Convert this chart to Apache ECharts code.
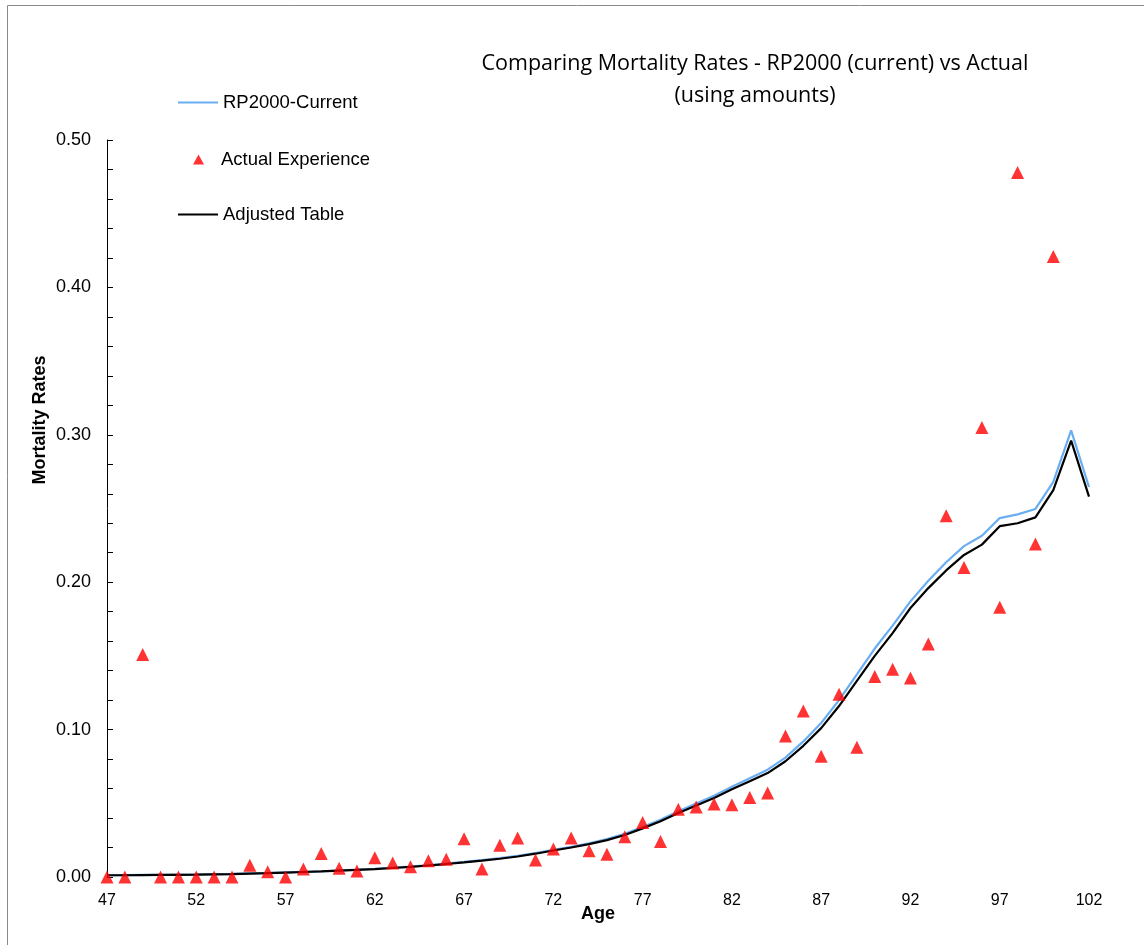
<!DOCTYPE html>
<html>
<head>
<meta charset="utf-8">
<script src="https://cdn.jsdelivr.net/npm/echarts@6/dist/echarts.min.js"></script>
<style>
  html, body { margin: 0; padding: 0; background: #fff; }
  #chart { width: 1144px; height: 945px; }
</style>
</head>
<body>
<div id="chart"></div>
<script>
// ages 47..102
var ages = [];
for (var a = 47; a <= 102; a++) ages.push(String(a));

var rp2000Current = [
  0.0012, 0.0013, 0.0014, 0.0015, 0.0016, 0.0017, 0.0019, 0.0021, 0.0024, 0.0027,
  0.0031, 0.0035, 0.0039, 0.0044, 0.0050, 0.0056, 0.0063, 0.0071, 0.0080, 0.0091,
  0.0102, 0.0114, 0.0128, 0.0143, 0.0162, 0.0184, 0.0205, 0.0229, 0.0257, 0.0293,
  0.0339, 0.0388, 0.0446, 0.0499, 0.0552, 0.0613, 0.0670, 0.0728, 0.0810, 0.0920,
  0.1045, 0.1200, 0.1375, 0.1550, 0.1705, 0.1870, 0.2010, 0.2135, 0.2245, 0.2315,
  0.2435, 0.2460, 0.2497, 0.2680, 0.3030, 0.2646
];

var adjustedTable = [
  0.0012, 0.0012, 0.0013, 0.0014, 0.0015, 0.0016, 0.0018, 0.0020, 0.0023, 0.0026,
  0.0030, 0.0034, 0.0038, 0.0043, 0.0048, 0.0054, 0.0061, 0.0069, 0.0078, 0.0088,
  0.0099, 0.0111, 0.0124, 0.0139, 0.0158, 0.0180, 0.0200, 0.0223, 0.0250, 0.0285,
  0.0330, 0.0378, 0.0434, 0.0485, 0.0536, 0.0595, 0.0650, 0.0705, 0.0785, 0.0890,
  0.1010, 0.1160, 0.1330, 0.1500, 0.1655, 0.1825, 0.1960, 0.2080, 0.2185, 0.2255,
  0.2380, 0.2400, 0.2440, 0.2625, 0.2960, 0.2580
];

var actualExperience = [
  0, 0, 0.151, 0, 0, 0, 0, 0, 0.008, 0.0035,
  0, 0.0055, 0.016, 0.006, 0.004, 0.013, 0.0095, 0.007, 0.011, 0.012,
  0.026, 0.0055, 0.0215, 0.0265, 0.0115, 0.019, 0.0265, 0.0178, 0.0155, 0.0273,
  0.037, 0.024, 0.046, 0.0475, 0.0495, 0.049, 0.054, 0.057, 0.0957, 0.1126,
  0.082, 0.124, 0.088, 0.136, 0.141, 0.135, 0.158, 0.245, 0.210, 0.305,
  0.183, 0.478, 0.226, 0.421, null, null
];

var yTicks = [0, 0.1, 0.2, 0.3, 0.4, 0.5];

var chart = echarts.init(document.getElementById('chart'), null, { renderer: 'canvas' });

var legendFont = { fontFamily: 'Liberation Sans, Arial, sans-serif', fontSize: 18.5, color: '#000' };

chart.setOption({
  animation: false,
  backgroundColor: '#fff',
  grid: { left: 107, right: 55, top: 140, bottom: 68 },
  legend: [
    {
      data: [{ name: 'RP2000-Current', icon: 'rect' }],
      left: 178, top: 93, padding: 0, itemWidth: 40, itemHeight: 2, textStyle: legendFont
    },
    {
      data: [{ name: 'Actual Experience', icon: 'triangle' }],
      left: 193, top: 150, padding: 0, itemWidth: 11, itemHeight: 10,
      textStyle: Object.assign({ padding: [0, 0, 0, 12] }, legendFont)
    },
    {
      data: [{ name: 'Adjusted Table', icon: 'rect' }],
      left: 178, top: 205, padding: 0, itemWidth: 40, itemHeight: 2, textStyle: legendFont
    }
  ],
  xAxis: {
    type: 'category',
    data: ages,
    boundaryGap: false,
    name: 'Age',
    nameLocation: 'middle',
    nameGap: 28,
    nameMoveOverlap: false,
    nameTextStyle: { fontFamily: 'Liberation Sans, Arial, sans-serif', fontSize: 18, fontWeight: 'bold', color: '#000' },
    axisLine: { show: false },
    axisTick: { show: false },
    axisLabel: {
      interval: 4,
      margin: 16,
      fontFamily: 'Liberation Sans, Arial, sans-serif',
      fontSize: 16,
      color: '#000'
    },
    splitLine: { show: false }
  },
  yAxis: {
    type: 'value',
    min: yTicks[0],
    max: yTicks[yTicks.length - 1],
    interval: 0.1,
    axisLine: { show: true, lineStyle: { color: '#000', width: 1 } },
    axisTick: { show: true, inside: true, length: 6, lineStyle: { color: '#000' } },
    minorTick: { show: true, splitNumber: 5, length: 6, lineStyle: { color: '#000' } },
    axisLabel: {
      margin: 16,
      fontFamily: 'Liberation Sans, Arial, sans-serif',
      fontSize: 18,
      color: '#000',
      formatter: function (v) { return v.toFixed(2); }
    },
    splitLine: { show: false }
  },
  series: [
    {
      name: 'RP2000-Current',
      type: 'line',
      data: rp2000Current,
      symbol: 'none',
      lineStyle: { color: '#6AAEF2', width: 2.2 },
      itemStyle: { color: '#6AAEF2' },
      z: 2
    },
    {
      name: 'Actual Experience',
      type: 'scatter',
      data: actualExperience,
      symbol: 'triangle',
      symbolSize: 13,
      itemStyle: { color: '#FF0000' },
      z: 5
    },
    {
      name: 'Adjusted Table',
      type: 'line',
      data: adjustedTable,
      symbol: 'none',
      lineStyle: { color: '#000', width: 2.2 },
      itemStyle: { color: '#000' },
      z: 3
    }
  ],
  graphic: [
    {
      type: 'rect',
      shape: { x: 7.5, y: 5.5, width: 1160, height: 960 },
      style: { fill: 'none', stroke: '#8a8a8a', lineWidth: 1 },
      silent: true
    },
    {
      type: 'text',
      x: 755,
      y: 48,
      style: {
        text: 'Comparing Mortality Rates - RP2000 (current) vs Actual\n(using amounts)',
        textAlign: 'center',
        font: '21.5px "Open Sans", sans-serif',
        lineHeight: 32,
        fill: '#000'
      }
    },
    {
      type: 'text',
      x: 40,
      y: 420,
      rotation: Math.PI / 2,
      style: {
        text: 'Mortality Rates',
        textAlign: 'center',
        textVerticalAlign: 'middle',
        font: 'bold 18px "Liberation Sans", Arial, sans-serif',
        fill: '#000'
      }
    }
  ]
});
</script>
</body>
</html>
